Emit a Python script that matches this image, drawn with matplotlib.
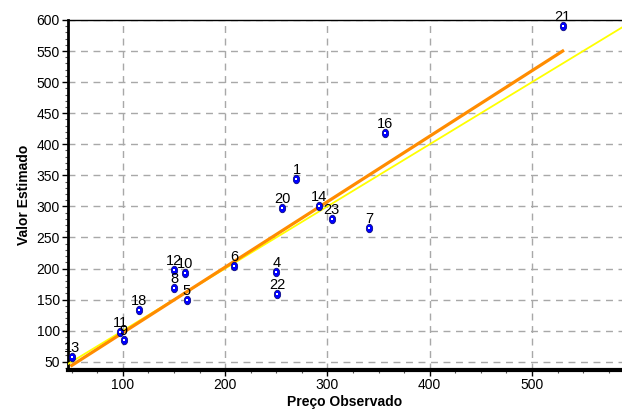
import matplotlib.pyplot as plt
import numpy as np
from matplotlib.path import Path
from matplotlib.ticker import MultipleLocator

plt.rcParams['font.family'] = ['Liberation Sans', 'DejaVu Sans']

# preco observado x valor estimado
labels = ['1', '4', '5', '6', '7', '8', '9', '10', '11', '12', '13', '14',
          '16', '18', '20', '21', '22', '23']
observado = [269.7, 250.1, 162.3, 208.6, 340.7, 150.0, 101.0, 160.4, 97.4,
             150.0, 49.8, 291.8, 355.8, 115.7, 255.6, 530.0, 250.7, 304.2]
estimado = [343.6, 194.9, 149.3, 204.0, 264.7, 168.1, 84.9, 193.3, 97.3,
            197.6, 57.1, 300.6, 417.6, 133.2, 297.9, 590.8, 159.0, 279.2]

# reta ajustada e reta y = x
reta_x = [50, 530]
reta_y = [44, 550]
ident = [46, 590]

fig = plt.figure(figsize=(6.22, 4.19), dpi=100)
ax = fig.add_axes([0.1093, 0.1169, 0.8907, 0.8354])

ax.plot(ident, ident, color='#ffff00', lw=1.3, zorder=3)
ax.plot(reta_x, reta_y, color='#ff8c00', lw=2.3, zorder=4)

elipse = Path(Path.unit_circle().vertices * [0.75, 1.0], Path.unit_circle().codes)
ax.scatter(observado, estimado, s=38, marker=elipse, facecolor='#0000ff',
           edgecolor='#000070', linewidth=0.5, zorder=5, clip_on=False)
ax.scatter(observado, estimado, s=1.5, marker='s', color='white', zorder=6,
           clip_on=False, linewidths=0)
for lb, x, y in zip(labels, observado, estimado):
    ax.annotate(lb, (x, y), xytext=(0, 1.5), textcoords='offset points',
                ha='center', va='bottom', fontsize=10.5, zorder=7,
                annotation_clip=False)

ax.set_xlim(46.3, 588)
ax.set_ylim(36.6, 600)
ax.xaxis.set_major_locator(MultipleLocator(100))
ax.xaxis.set_minor_locator(MultipleLocator(25))
ax.yaxis.set_major_locator(MultipleLocator(50))
ax.yaxis.set_minor_locator(MultipleLocator(10))
ax.tick_params(which='major', length=4, width=1, labelsize=10, pad=2)
ax.tick_params(which='minor', length=2.5, width=0.8, color='#555555')

ax.grid(True, which='major', color='#a8a8a8', linestyle=(0, (5, 4)), lw=1)
ax.set_axisbelow(True)

ax.spines['right'].set_visible(False)
ax.spines['bottom'].set_linewidth(3)
ax.spines['left'].set_linewidth(2)
ax.spines['top'].set_linewidth(1)

ax.set_xlabel('Preço Observado', fontsize=10, fontweight='bold', labelpad=2)
ax.set_ylabel('Valor Estimado', fontsize=10, fontweight='bold', labelpad=4)

fig.savefig('out.png', dpi=100)
